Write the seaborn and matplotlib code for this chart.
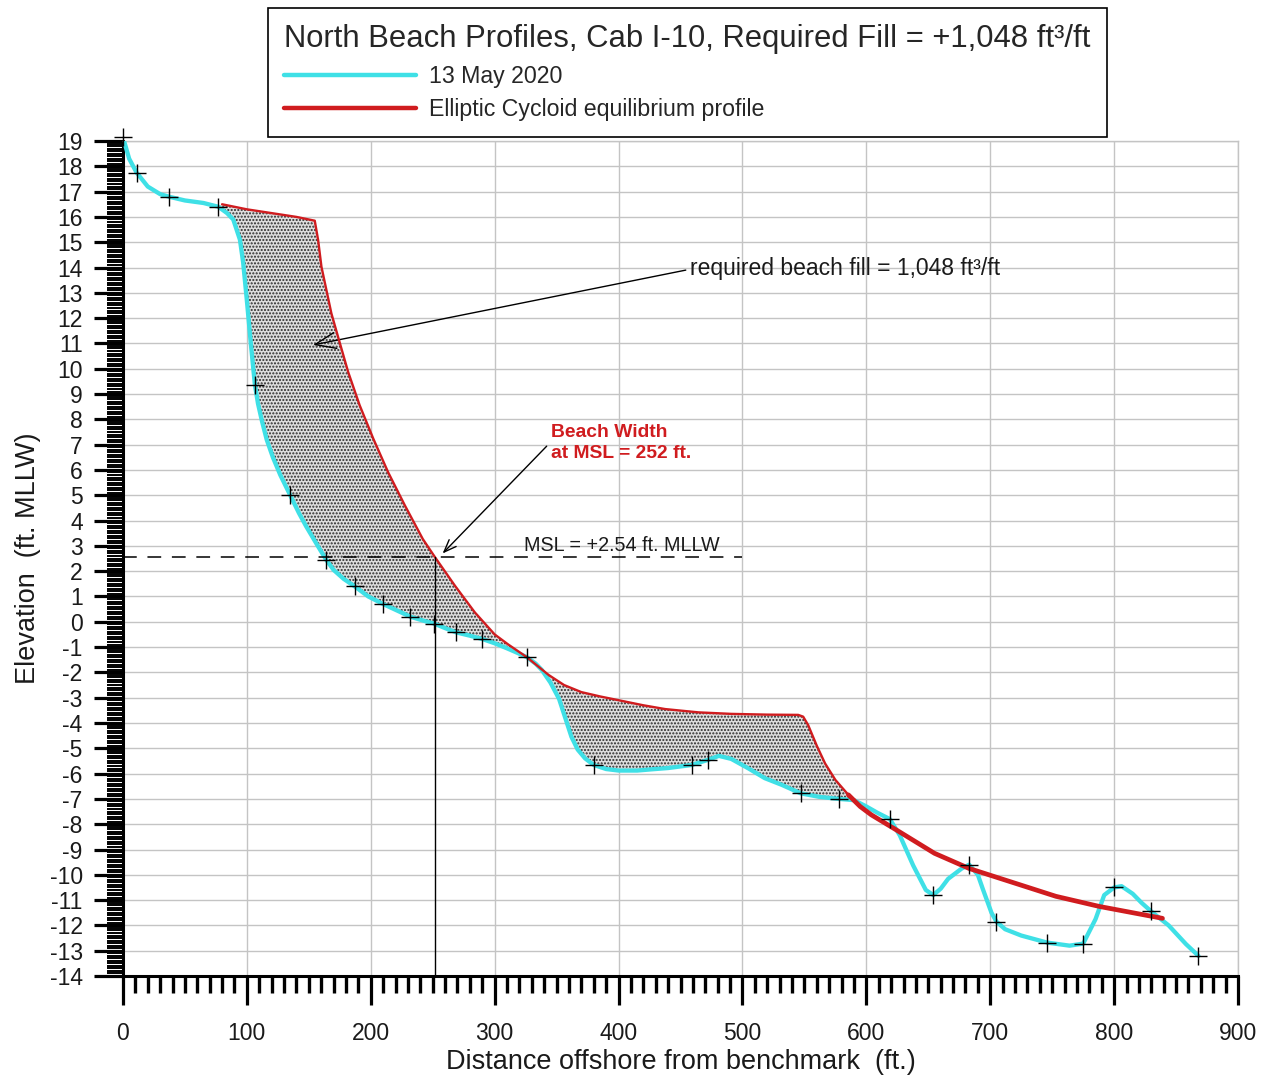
import numpy as np
import pandas as pd
import matplotlib
matplotlib.use("Agg")
import matplotlib.pyplot as plt
from matplotlib.lines import Line2D
from matplotlib.ticker import MultipleLocator
import seaborn as sns

# ---- surveyed profile, 13 May 2020 (distance ft, elevation ft MLLW) ----
survey_x = [0, 5, 11, 20, 30, 37, 50, 65, 77, 84, 89, 94.4, 97, 100, 103.3, 106.5,
            109, 112, 116, 121, 127, 135, 142, 148, 156, 164, 170, 178, 187, 198,
            210, 221, 232, 242, 251, 260, 269, 280, 290, 300, 310, 318, 326, 333,
            338, 345, 352, 357, 362, 367, 373, 380, 390, 400, 415, 427, 440, 459,
            472, 481, 491, 505, 518, 532, 547, 562, 578, 590, 600, 609, 619, 627,
            637.8, 648, 654, 660, 666, 677, 683, 690, 694, 701, 705, 712, 725, 746,
            764, 775, 785, 792, 800, 806, 815, 822, 830, 844, 858, 868]
survey_y = [19.15, 18.3, 17.75, 17.2, 16.9, 16.8, 16.65, 16.55, 16.4, 16.15, 15.9, 15.1,
            14.2, 12.7, 10.94, 9.36, 8.62, 7.97, 7.2, 6.5, 5.8, 5.0, 4.3, 3.76,
            3.1, 2.45, 2.05, 1.7, 1.4, 1.0, 0.7, 0.45, 0.2, 0.05, -0.07, -0.25, -0.42,
            -0.55, -0.68, -0.85, -1.05, -1.22, -1.4, -1.65, -1.9, -2.4, -3.05, -3.8,
            -4.55, -5.05, -5.4, -5.66, -5.82, -5.88, -5.88, -5.83, -5.78, -5.66, -5.46,
            -5.3, -5.42, -5.8, -6.18, -6.45, -6.78, -6.92, -7.0, -7.05, -7.3, -7.55,
            -7.8, -8.44, -9.63, -10.6, -10.8, -10.55, -10.16, -9.75, -9.6, -10.0,
            -10.56, -11.5, -11.85, -12.15, -12.4, -12.68, -12.8, -12.72, -11.75,
            -10.8, -10.5, -10.45, -10.75, -11.1, -11.45, -12.0, -12.74, -13.2]

# survey stations marked with crosses
station_x = [0, 11, 37, 77, 106.5, 135, 164, 187, 210, 232, 251, 269, 290, 326, 380,
             459, 472, 547, 578, 619, 654, 683, 705, 746, 775, 800, 830, 868]
station_y = [19.15, 17.75, 16.8, 16.4, 9.36, 5.0, 2.45, 1.4, 0.7, 0.2, -0.07, -0.42,
             -0.68, -1.4, -5.66, -5.66, -5.46, -6.78, -7.0, -7.8, -10.8, -9.6, -11.85,
             -12.68, -12.75, -10.5, -11.45, -13.2]

# ---- Elliptic Cycloid equilibrium profile ----
eq_x = [80, 100, 120, 140, 154.8, 157.5, 160.2, 164.2, 168.2, 173.6, 181.7, 191, 202,
        214, 227.5, 242, 252, 268, 284, 300, 311, 326, 343.5, 356, 370, 385, 400, 420,
        437.6, 464.5, 491, 520, 545, 549, 553, 560, 566.7, 575, 585.5]
eq_y = [16.5, 16.3, 16.15, 16.0, 15.85, 15.09, 14.03, 13.11, 12.19, 11.26, 9.88, 8.56,
        7.24, 5.91, 4.6, 3.27, 2.54, 1.42, 0.37, -0.5, -0.9, -1.4, -2.1, -2.5, -2.78,
        -2.95, -3.1, -3.3, -3.45, -3.58, -3.64, -3.67, -3.68, -3.75, -4.08, -4.9,
        -5.6, -6.25, -6.84]
eq_off_x = [585.5, 595, 604, 625, 655, 683, 718, 753, 788, 839]
eq_off_y = [-6.84, -7.3, -7.63, -8.25, -9.15, -9.75, -10.3, -10.85, -11.25, -11.72]

msl = 2.54
beach_width = 252
fill_volume = "1,048"

CYAN = "#3fe0e6"
RED = "#d01c1f"
INK = "#1a1a1a"

sns.set_style("white")
plt.rcParams["font.family"] = ["Liberation Sans", "DejaVu Sans"]
plt.rcParams["axes.unicode_minus"] = False

fig = plt.figure(figsize=(12.69, 10.78), dpi=100)
ax = fig.add_axes([0.0969, 0.0946, 0.8787, 0.7746])

survey = pd.DataFrame({"x": survey_x, "y": survey_y})
stations = pd.DataFrame({"x": station_x, "y": station_y})
eq = pd.DataFrame({"x": eq_x, "y": eq_y})
eq_off = pd.DataFrame({"x": eq_off_x, "y": eq_off_y})

# stippled fill volume between the surveyed and equilibrium profiles
sel = survey[(survey.x >= 77) & (survey.x <= 590)]
poly_x = list(sel.x) + list(eq.x[::-1])
poly_y = list(sel.y) + list(eq.y[::-1])
ax.fill(poly_x, poly_y, facecolor="#dedede", edgecolor="#2a2a2a", hatch=".....",
        linewidth=0, zorder=2)

sns.lineplot(data=survey, x="x", y="y", sort=False, estimator=None, color=CYAN,
             linewidth=3.1, ax=ax, zorder=3)
sns.lineplot(data=eq, x="x", y="y", sort=False, estimator=None, color=RED,
             linewidth=1.7, ax=ax, zorder=4)
sns.lineplot(data=eq_off, x="x", y="y", sort=False, estimator=None, color=RED,
             linewidth=3.4, ax=ax, zorder=4)
sns.scatterplot(data=stations, x="x", y="y", marker="+", s=150, color="black",
                linewidth=1.0, ax=ax, zorder=5, clip_on=False)

# mean sea level reference and beach width
ax.plot([0, 500], [msl, msl], color="black", linewidth=1.1, dashes=(9, 7), zorder=4)
ax.plot([beach_width, beach_width], [-14, msl], color="black", linewidth=1.0, zorder=4)

ax.set_xlim(0, 900)
ax.set_ylim(-14, 19)
ax.xaxis.set_major_locator(MultipleLocator(100))
ax.xaxis.set_minor_locator(MultipleLocator(10))
ax.yaxis.set_major_locator(MultipleLocator(1))
ax.yaxis.set_minor_locator(MultipleLocator(0.1))

ax.grid(True, which="major", color="#c4c4c4", linewidth=1.0, zorder=0)
ax.set_axisbelow(True)
for side in ["top", "right"]:
    ax.spines[side].set_color("#c4c4c4")
    ax.spines[side].set_linewidth(1.0)
for side in ["left", "bottom"]:
    ax.spines[side].set_color("black")
    ax.spines[side].set_linewidth(2.2)

ax.tick_params(which="both", bottom=True, left=True, top=False, right=False)
ax.tick_params(axis="both", which="major", direction="out", color="black",
               length=21, width=2.3, labelcolor=INK)
ax.tick_params(axis="y", which="major", labelsize=16.5, pad=8)
ax.tick_params(axis="x", which="major", labelsize=16.5, pad=12)
ax.tick_params(axis="y", which="minor", direction="out", length=11.5, width=1.4,
               color="black")
ax.tick_params(axis="x", which="minor", direction="out", length=12, width=2.4,
               color="black")

ax.set_xlabel("Distance offshore from benchmark  (ft.)", fontsize=19.5, labelpad=3,
              color=INK)
ax.set_ylabel("Elevation  (ft. MLLW)", fontsize=19.5, labelpad=6, color=INK)

# annotations
ax.annotate(f"required beach fill = {fill_volume} ft\u00b3/ft", xy=(153.5, 10.94),
            xytext=(458, 13.98), fontsize=16.5, va="center", ha="left", color=INK,
            arrowprops=dict(arrowstyle="->,head_length=0.9,head_width=0.35",
                            color="black", linewidth=1.0, shrinkA=1, shrinkB=0,
                            relpos=(0.0, 0.45)))
ax.annotate("", xy=(258, 2.7), xytext=(342, 6.94),
            arrowprops=dict(arrowstyle="->,head_length=0.9,head_width=0.35",
                            color="black", linewidth=1.0, shrinkA=0, shrinkB=0))
ax.text(345.5, 7.8, f"Beach Width\nat MSL = {beach_width} ft.", color=RED,
        fontsize=13.9, fontweight="bold", ha="left", va="top", linespacing=1.3)
ax.text(324, 2.78, f"MSL = +{msl} ft. MLLW", fontsize=14.2, ha="left",
        va="baseline", color=INK)

# legend
handles = [Line2D([], [], color=CYAN, linewidth=3.2),
           Line2D([], [], color=RED, linewidth=3.2)]
leg = fig.legend(handles, ["13 May 2020", "Elliptic Cycloid equilibrium profile"],
                 title=f"North Beach Profiles, Cab I-10, Required Fill = +{fill_volume} ft\u00b3/ft",
                 title_fontsize=22.3, fontsize=16.7, loc="upper left",
                 bbox_to_anchor=(0.2112, 0.9926), borderaxespad=0, frameon=True,
                 fancybox=False, edgecolor="black", framealpha=1, handlelength=5.7,
                 handletextpad=0.55, labelspacing=0.45, borderpad=0.7,
                 alignment="left")
leg.get_frame().set_linewidth(1.2)

fig.savefig("out.png", dpi=100)
